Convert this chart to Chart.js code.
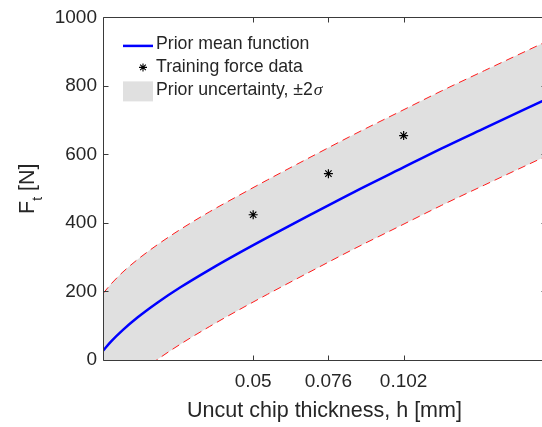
<!DOCTYPE html>
<html lang="en">
<head>
<meta charset="UTF-8" />
<title>Prior mean function and uncertainty</title>
<script src="https://cdn.jsdelivr.net/npm/chart.js@4"></script>
<style>
  html, body { margin: 0; padding: 0; background: #fff; overflow: hidden; }
  .chart-container { width: 560px; height: 427px; }
</style>
</head>
<body>
<div class="chart-container"><canvas id="priorChart" width="560" height="427"></canvas></div>
<script>
// tick values / labels
const xTicks = [0.05, 0.076, 0.102];
const xTickLabels = ['0.05', '0.076', '0.102'];
const yTicks = [0, 200, 400, 600, 800, 1000];

// curves (h in mm, F in N)
const hGrid  = [-0.0019, 0.0010, 0.0050, 0.0100, 0.0170, 0.0250, 0.0350, 0.0450, 0.0550, 0.0700, 0.0850, 0.1000, 0.1150, 0.1300, 0.1512];
const meanF  = [27, 55, 88, 124, 168, 213, 264, 312, 358, 425, 491, 554, 617, 677, 761];
const upperF = [194, 223, 257, 293, 337, 382, 433, 480, 526, 593, 659, 722, 785, 845, 929];
const lowerF = [-139, -111, -78, -42, 2, 47, 98, 146, 192, 259, 325, 388, 451, 511, 595];

// training force data
const trainH = [0.05, 0.076, 0.102];
const trainF = [424, 544, 655];

const FONT = '"Liberation Sans", Arial, Helvetica, sans-serif';
const TEXT = '#262626';

function pts(xs, ys) {
  return xs.map((x, i) => ({ x: x, y: ys[i] }));
}

// box, inward ticks, legend and y label (MATLAB look)
const matlabAxes = {
  id: 'matlabAxes',
  afterDatasetsDraw(chart) {
    const ctx = chart.ctx;
    const a = chart.chartArea;
    const xs = chart.scales.x, ys = chart.scales.y;
    const L = Math.round(a.left) + 0.5, R = Math.round(a.right) + 0.5;
    const T = Math.round(a.top) + 0.5, B = Math.round(a.bottom) + 0.5;
    const tl = 5;
    ctx.save();
    ctx.strokeStyle = '#3a3a3a';
    ctx.lineWidth = 1;
    ctx.beginPath();
    ctx.rect(L, T, R - L, B - T);
    yTicks.forEach(v => {
      const py = Math.round(ys.getPixelForValue(v)) + 0.5;
      ctx.moveTo(L, py); ctx.lineTo(L + tl, py);
      ctx.moveTo(R, py); ctx.lineTo(R - tl, py);
    });
    xTicks.forEach(v => {
      const px = Math.round(xs.getPixelForValue(v)) + 0.5;
      ctx.moveTo(px, B); ctx.lineTo(px, B - tl);
      ctx.moveTo(px, T); ctx.lineTo(px, T + tl);
    });
    ctx.stroke();
    ctx.restore();
  },
  afterDraw(chart) {
    const ctx = chart.ctx;
    const a = chart.chartArea;
    const ds = chart.data.datasets;

    // legend
    ctx.save();
    const lx0 = a.left + 20, lx1 = a.left + 50, tx = a.left + 53;
    const rows = [a.top + 28.5, a.top + 51, a.top + 74];
    const ty = -1.5; // text sits a little higher than the symbols
    ctx.font = '17.7px ' + FONT;
    ctx.textBaseline = 'middle';
    ctx.fillStyle = TEXT;

    ctx.strokeStyle = ds[2].borderColor;
    ctx.lineWidth = ds[2].borderWidth;
    ctx.beginPath(); ctx.moveTo(lx0, rows[0]); ctx.lineTo(lx1, rows[0]); ctx.stroke();
    ctx.fillText(ds[2].label, tx, rows[0] + ty);

    const sx = a.left + 40, sy = rows[1] - 1, r = 4;
    ctx.strokeStyle = '#000';
    ctx.lineWidth = 1.1;
    ctx.beginPath();
    for (let k = 0; k < 4; k++) {
      const ang = k * Math.PI / 4;
      ctx.moveTo(sx - r * Math.cos(ang), sy - r * Math.sin(ang));
      ctx.lineTo(sx + r * Math.cos(ang), sy + r * Math.sin(ang));
    }
    ctx.stroke();
    ctx.fillText(ds[3].label, tx, rows[1] + ty);

    ctx.fillStyle = ds[0].backgroundColor;
    ctx.fillRect(lx0, rows[2] - 10, lx1 - lx0, 20);
    ctx.fillStyle = TEXT;
    const base = 'Prior uncertainty, \u00b12';
    ctx.fillText(base, tx, rows[2] + ty);
    const w = ctx.measureText(base).width;
    ctx.font = 'italic 17.7px "Liberation Serif", "Times New Roman", serif';
    ctx.fillText('\u03c3', tx + w + 1, rows[2] + ty);
    ctx.restore();

    // y axis label F_t [N]
    ctx.save();
    ctx.fillStyle = TEXT;
    const big = '21.5px ' + FONT, small = '14px ' + FONT;
    ctx.font = big;
    const wF = ctx.measureText('F').width;
    const wRest = ctx.measureText(' [N]').width;
    ctx.font = small;
    const wt = ctx.measureText('t').width;
    const total = wF + wt + wRest;
    const cy = (a.top + a.bottom) / 2;
    ctx.translate(33.5, cy + total / 2);
    ctx.rotate(-Math.PI / 2);
    ctx.textAlign = 'left';
    ctx.textBaseline = 'alphabetic';
    ctx.font = big; ctx.fillText('F', 0, 0);
    ctx.font = small; ctx.fillText('t', wF, 8);
    ctx.font = big; ctx.fillText(' [N]', wF + wt, 0);
    ctx.restore();
  }
};

new Chart(document.getElementById('priorChart'), {
  type: 'line',
  data: {
    datasets: [
      {
        label: 'Prior uncertainty, \u00b12\u03c3',
        data: pts(hGrid, upperF),
        borderColor: '#ff1a1a',
        borderWidth: 1,
        borderDash: [8, 5],
        backgroundColor: '#e0e0e0',
        fill: '+1',
        pointRadius: 0,
        cubicInterpolationMode: 'monotone',
        clip: 0,
        order: 3
      },
      {
        label: 'lower',
        data: pts(hGrid, lowerF),
        borderColor: '#ff1a1a',
        borderWidth: 1,
        borderDash: [8, 5],
        fill: false,
        pointRadius: 0,
        cubicInterpolationMode: 'monotone',
        clip: 0,
        order: 3
      },
      {
        label: 'Prior mean function',
        data: pts(hGrid, meanF),
        borderColor: '#0000ff',
        borderWidth: 2.5,
        fill: false,
        pointRadius: 0,
        cubicInterpolationMode: 'monotone',
        clip: 0,
        order: 2
      },
      {
        label: 'Training force data',
        data: pts(trainH, trainF),
        showLine: false,
        pointStyle: 'star',
        pointRadius: 4.5,
        pointBorderColor: '#000',
        pointBorderWidth: 1.2,
        pointBackgroundColor: '#000',
        order: 1
      }
    ]
  },
  options: {
    responsive: false,
    maintainAspectRatio: false,
    devicePixelRatio: 1,
    animation: false,
    layout: { padding: { left: 0, top: 14, right: 14, bottom: 0 } },
    plugins: {
      legend: { display: false },
      tooltip: { enabled: false },
      filler: { drawTime: 'beforeDatasetsDraw' }
    },
    scales: {
      x: {
        type: 'linear',
        min: -0.0019,
        max: 0.1512,
        afterFit: s => { s.height = 67; },
        afterBuildTicks: s => { s.ticks = xTicks.map(v => ({ value: v })); },
        grid: { display: false, drawTicks: false },
        border: { display: false },
        ticks: {
          padding: 10,
          color: TEXT,
          font: { family: FONT, size: 19 },
          maxRotation: 0,
          autoSkip: false,
          callback: (v, i) => xTickLabels[i]
        },
        title: {
          display: true,
          text: 'Uncut chip thickness, h [mm]',
          color: TEXT,
          font: { family: FONT, size: 21.5 },
          padding: { top: 0, bottom: 3 }
        }
      },
      y: {
        min: 0,
        max: 1000,
        afterFit: s => { s.width = 103; },
        afterBuildTicks: s => { s.ticks = yTicks.map(v => ({ value: v })); },
        grid: { display: false, drawTicks: false },
        border: { display: false },
        ticks: {
          padding: 6,
          color: TEXT,
          font: { family: FONT, size: 19 },
          callback: v => String(v)
        }
      }
    }
  },
  plugins: [matlabAxes]
});
</script>
</body>
</html>
